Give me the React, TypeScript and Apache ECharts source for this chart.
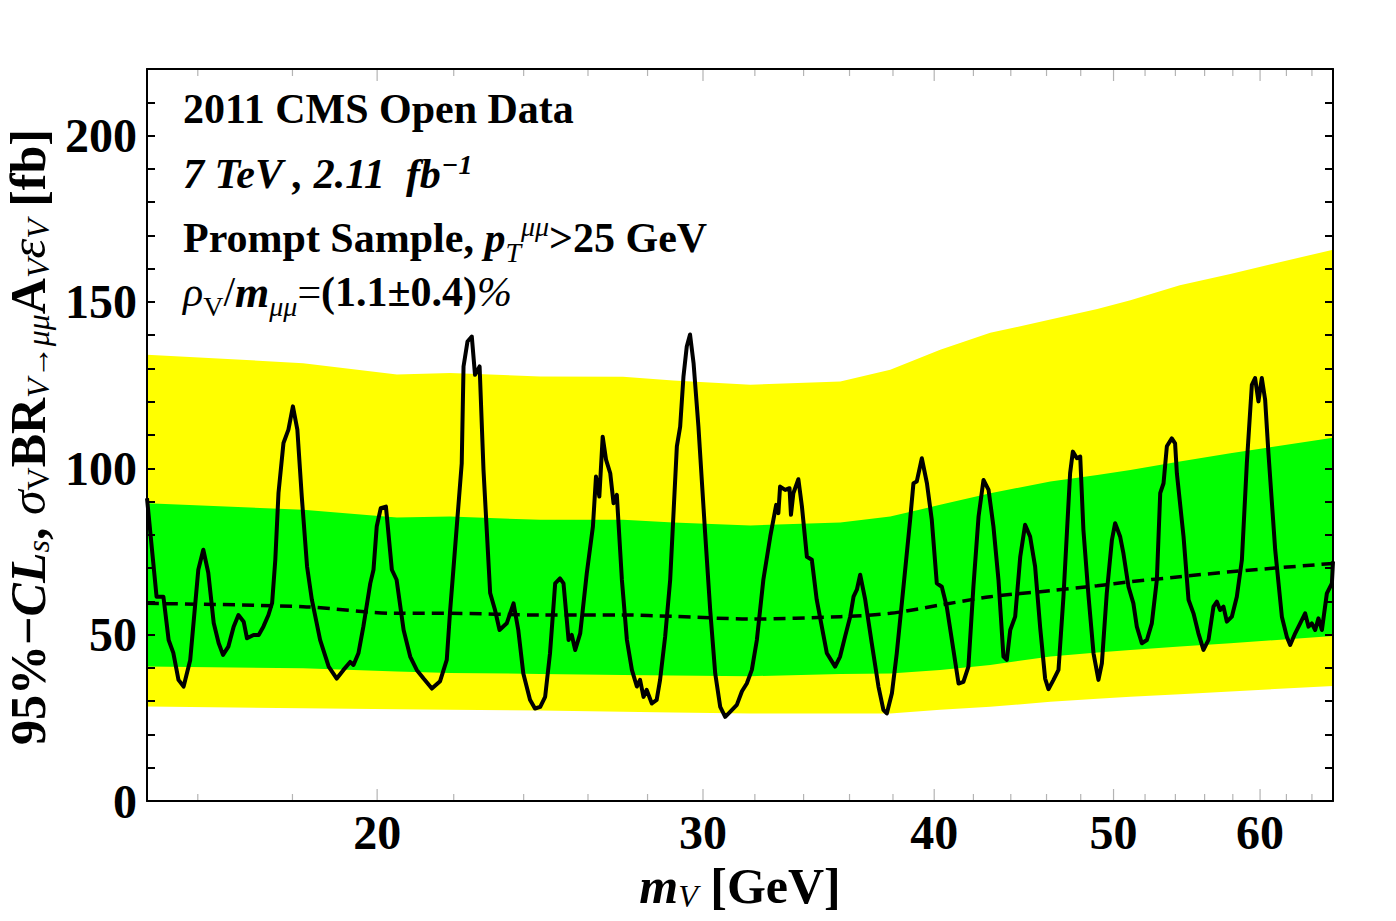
import React, { useEffect, useRef } from "react";
import * as echarts from "echarts";

const SERIF = '"Liberation Serif", "Times New Roman", Times, serif';

// Axis ranges: dimuon mass m_V in GeV (log scale), limit in fb
const massRange = [15.02, 65.7];
const limitRange = [0, 220];

const xMajorTicks = [20, 30, 40, 50, 60];
const xMinorTicks = [16, 18, 22, 24, 26, 28, 32, 34, 36, 38, 42, 44, 46, 48, 52, 54, 56, 58, 62, 64];
const yLabelStep = 50;

// Expected limit and its 1σ / 2σ bands
const bandMass = [15.02, 18.24, 20.5, 21.9, 24.5, 27.16, 28.91, 31.82, 35.59, 37.87, 40.3, 42.89, 46.22, 49.0, 51.06, 54.3, 57.82, 65.7];
const twoSigmaHigh = [134.1, 131.6, 128.2, 128.6, 127.6, 127.5, 126.4, 125.1, 126.1, 129.6, 135.6, 140.7, 144.7, 147.9, 150.5, 155.0, 158.4, 165.7];
const oneSigmaHigh = [89.5, 87.5, 85.2, 85.5, 84.5, 84.5, 83.7, 82.8, 83.7, 85.5, 89.0, 92.5, 96.0, 98.0, 99.5, 102.0, 104.5, 109.2];
const oneSigmaLow = [40.4, 39.9, 38.9, 38.5, 38.2, 37.9, 37.7, 37.5, 38.2, 38.3, 39.4, 40.9, 43.4, 44.6, 45.4, 46.4, 47.4, 49.6];
const twoSigmaLow = [28.4, 27.9, 27.6, 27.4, 27.2, 26.8, 26.6, 26.3, 26.3, 26.3, 27.4, 28.3, 29.8, 30.7, 31.3, 32.1, 32.9, 34.6];
const expectedMedian = [59.4, 58.4, 56.4, 56.4, 55.9, 55.9, 55.5, 54.7, 55.4, 56.4, 58.9, 61.4, 63.2, 64.7, 65.9, 67.4, 68.9, 71.4];

// Observed 95% CLs limit: [m_V (GeV), limit (fb)]
const observedLimit: [number, number][] = [
  [15.02, 91], [15.2, 61.4], [15.33, 61.4], [15.43, 48.4], [15.52, 44.5], [15.62, 36.4], [15.72, 34.4], [15.85, 42.4],
  [16.01, 69.5], [16.11, 75.5], [16.21, 68.6], [16.32, 53.5], [16.42, 47.5], [16.51, 43.9], [16.62, 46.4], [16.73, 52.4],
  [16.83, 55.9], [16.94, 53.9], [17.01, 48.9], [17.15, 49.9], [17.26, 49.9], [17.36, 52.4], [17.47, 55.9], [17.55, 59.5],
  [17.62, 72.5], [17.69, 92.6], [17.8, 107.6], [17.91, 111.6], [18.01, 118.6], [18.11, 111.6], [18.21, 91.5], [18.33, 70.5],
  [18.44, 60.5], [18.63, 48.4], [18.83, 40.4], [19.02, 36.8], [19.18, 39.4], [19.34, 41.8], [19.42, 40.9], [19.54, 44.4],
  [19.66, 52.4], [19.83, 65.4], [19.91, 69.5], [19.99, 82.5], [20.09, 88], [20.22, 88.5], [20.37, 69.5], [20.49, 66.5],
  [20.67, 51.4], [20.84, 43.4], [21.01, 39.4], [21.19, 36.8], [21.41, 33.8], [21.63, 36], [21.81, 42.4], [21.9, 57],
  [21.99, 69.5], [22.22, 101.5], [22.27, 130.6], [22.38, 138.1], [22.5, 139.6], [22.59, 128.1], [22.72, 130.6], [22.83, 99.5],
  [23.02, 62.5], [23.16, 57.4], [23.29, 51.4], [23.5, 53.4], [23.7, 59.4], [23.84, 51.4], [23.99, 38.3], [24.19, 30.4],
  [24.34, 27.8], [24.5, 28.3], [24.65, 31.3], [24.8, 44.4], [24.96, 65.4], [25.11, 66.9], [25.22, 65.4], [25.38, 48.4],
  [25.48, 49.9], [25.59, 45.4], [25.75, 50.4], [25.96, 68.4], [26.16, 82.5], [26.26, 97.5], [26.37, 91.5], [26.48, 109.5],
  [26.59, 102.6], [26.73, 98.5], [26.84, 89.5], [26.95, 92], [27.12, 66.5], [27.29, 48.4], [27.46, 39.4], [27.63, 34.4],
  [27.74, 36.4], [27.86, 31.3], [27.97, 33.4], [28.15, 29.3], [28.32, 30.4], [28.44, 36.4], [28.62, 49.4], [28.8, 66.5],
  [29.04, 106.6], [29.16, 112.5], [29.28, 127.6], [29.4, 136.6], [29.52, 140.2], [29.65, 131.6], [29.83, 112.5], [30.08, 80.5],
  [30.27, 57.4], [30.46, 38.3], [30.65, 28.3], [30.84, 25.3], [31.03, 26.8], [31.29, 28.9], [31.49, 33], [31.68, 35.3],
  [31.88, 39.4], [32.08, 48.4], [32.34, 66.5], [32.62, 79.5], [32.86, 89], [32.95, 86.5], [33.02, 94.5], [33.23, 93.5],
  [33.41, 94], [33.47, 86], [33.57, 92.5], [33.78, 96.7], [33.93, 88.5], [34.14, 73.4], [34.35, 72.5], [34.56, 60.5],
  [34.78, 52.4], [35.0, 44.4], [35.36, 40.4], [35.58, 43.4], [35.8, 49.4], [36.03, 55.4], [36.18, 61.4], [36.33, 63.5],
  [36.48, 68], [36.71, 60.5], [37.01, 47.4], [37.32, 34.4], [37.55, 27.4], [37.71, 26.3], [37.95, 32.4], [38.18, 44.4],
  [38.5, 64.4], [38.82, 84.5], [38.98, 95.5], [39.14, 96], [39.39, 103], [39.64, 95.5], [39.88, 84.5], [40.13, 65.4],
  [40.38, 64.4], [40.63, 58.4], [40.89, 48.4], [41.23, 35.3], [41.48, 35.8], [41.74, 40.4], [42.0, 64.4], [42.27, 85.5],
  [42.53, 96.5], [42.8, 93.5], [43.06, 82.5], [43.33, 66.5], [43.6, 43.4], [43.78, 42.4], [43.97, 51.4], [44.24, 55.4],
  [44.52, 73.4], [44.79, 83], [45.07, 79.5], [45.35, 70.5], [45.64, 52], [45.92, 36.8], [46.11, 33.6], [46.4, 36.4],
  [46.69, 39.4], [46.98, 61.4], [47.37, 98.5], [47.53, 105], [47.77, 103], [47.97, 103.5], [48.16, 81.5], [48.47, 61.4],
  [48.77, 44.4], [49.07, 36.4], [49.28, 41.4], [49.58, 62.4], [49.9, 78.5], [50.1, 83.5], [50.41, 79.5], [50.62, 74.4],
  [50.94, 64.4], [51.25, 59.4], [51.47, 52.4], [51.79, 47.4], [52.12, 48.4], [52.44, 53.4], [52.77, 66.5], [52.99, 92.5],
  [53.21, 95.5], [53.43, 106.6], [53.76, 109], [53.98, 107.5], [54.1, 98.5], [54.55, 79.5], [54.89, 60.5], [55.23, 56.4],
  [55.57, 50.4], [55.92, 45.4], [56.27, 48.4], [56.62, 58.4], [56.86, 59.9], [57.09, 57.4], [57.33, 58.4], [57.57, 53.9],
  [57.93, 55.4], [58.29, 61.4], [58.66, 72.5], [59.02, 101.5], [59.39, 125.1], [59.63, 127.1], [59.88, 120.1], [60.13, 127.1],
  [60.38, 120.6], [60.63, 104.5], [61.14, 75.5], [61.65, 55.4], [62.03, 49.4], [62.29, 46.9], [62.68, 50.4], [63.07, 53.4],
  [63.46, 56.4], [63.73, 52.4], [63.99, 53.4], [64.26, 51.4], [64.52, 54.9], [64.8, 51.4], [65.2, 62.4], [65.61, 65.4],
  [65.7, 72],
];

const lg = Math.log10;

const font = (size: number, weight: string, style: string, extra: Record<string, unknown> = {}) => ({
  fontFamily: SERIF,
  fontSize: size,
  fontWeight: weight,
  fontStyle: style,
  fill: "#000",
  ...extra,
});

// Rich-text styles for the annotation block
const annoRich = {
  b: font(42, "bold", "normal", { lineHeight: 56 }),
  bi: font(42, "bold", "italic", { lineHeight: 56 }),
  bim: font(44, "bold", "italic", { lineHeight: 56 }),
  i: font(42, "normal", "italic", { lineHeight: 56 }),
  r: font(42, "normal", "normal", { lineHeight: 56 }),
  sub: font(28, "normal", "normal", { verticalAlign: "bottom" }),
  subi: font(28, "normal", "italic", { verticalAlign: "bottom" }),
  supi: font(28, "normal", "italic", { verticalAlign: "top", padding: [2, 0, 0, 0] }),
  supbi: font(28, "bold", "italic", { verticalAlign: "top", padding: [4, 0, 0, 0] }),
};

// Rich-text styles for the axis titles
const titleRich = {
  b: font(50, "bold", "normal", { lineHeight: 52 }),
  bi: font(50, "bold", "italic", { lineHeight: 52 }),
  i: font(50, "normal", "italic", { lineHeight: 52 }),
  sub: font(32, "normal", "normal", { verticalAlign: "bottom" }),
  subi: font(32, "normal", "italic", { verticalAlign: "bottom" }),
};

export default function App() {
  const ref = useRef<HTMLDivElement>(null);

  useEffect(() => {
    if (!ref.current) return;
    const chart = echarts.init(ref.current, undefined, { renderer: "svg" });

    const frameLine = { show: true, onZero: false, lineStyle: { color: "#000", width: 2 } };
    const xAxisBase = {
      type: "value",
      min: lg(massRange[0]),
      max: lg(massRange[1]),
      axisLine: frameLine,
      axisTick: { show: false },
      axisLabel: { show: false },
      splitLine: { show: false },
      z: 8,
    };
    const yAxisBase = {
      type: "value",
      min: limitRange[0],
      max: limitRange[1],
      interval: 10,
      axisLine: frameLine,
      axisTick: { show: true, inside: true, length: 8, lineStyle: { color: "#000", width: 2 } },
      splitLine: { show: false },
      z: 8,
    };

    const bandPolygon = (api: any, hi: number[], lo: number[]) => {
      const pts: number[][] = [];
      bandMass.forEach((m, i) => pts.push(api.coord([lg(m), hi[i]])));
      for (let i = bandMass.length - 1; i >= 0; i--) pts.push(api.coord([lg(bandMass[i]), lo[i]]));
      return pts;
    };

    const tickData = [
      ...xMajorTicks.map((m) => [lg(m), m, 1]),
      ...xMinorTicks.map((m) => [lg(m), m, 0]),
    ];

    const option = {
      animation: false,
      backgroundColor: "#fff",
      grid: { left: 147, top: 69, width: 1186, height: 732, containLabel: false },
      xAxis: [
        { ...xAxisBase, position: "bottom" },
        { ...xAxisBase, position: "top" },
      ],
      yAxis: [
        {
          ...yAxisBase,
          position: "left",
          axisLabel: {
            show: true,
            margin: 10,
            color: "#000",
            fontFamily: SERIF,
            fontSize: 48,
            fontWeight: "bold",
            formatter: (v: number) => (v % yLabelStep === 0 ? String(v) : ""),
          },
        },
        { ...yAxisBase, position: "right", axisLabel: { show: false } },
      ],
      series: [
        {
          name: "bands",
          type: "custom",
          z: 1,
          silent: true,
          clip: true,
          data: [[lg(bandMass[0]), 0]],
          renderItem: (_params: any, api: any) => ({
            type: "group",
            children: [
              { type: "polygon", shape: { points: bandPolygon(api, twoSigmaHigh, twoSigmaLow) }, style: { fill: "#ffff00" } },
              { type: "polygon", shape: { points: bandPolygon(api, oneSigmaHigh, oneSigmaLow) }, style: { fill: "#00ff00" } },
            ],
          }),
        },
        {
          name: "expected",
          type: "line",
          z: 3,
          symbol: "none",
          silent: true,
          smooth: 0.3,
          data: bandMass.map((m, i) => [lg(m), expectedMedian[i]]),
          lineStyle: { color: "#000", width: 3.5, type: [12, 7] },
        },
        {
          name: "observed",
          type: "line",
          z: 4,
          symbol: "none",
          silent: true,
          clip: true,
          data: observedLimit.map(([m, v]) => [lg(m), v]),
          lineStyle: { color: "#000", width: 4, join: "round" },
        },
        {
          name: "massTicks",
          type: "custom",
          z: 9,
          silent: true,
          clip: false,
          data: tickData,
          renderItem: (params: any, api: any) => {
            const cs = params.coordSys;
            const px = api.coord([api.value(0), 0])[0];
            const major = api.value(2) === 1;
            const len = major ? 12 : 7;
            const bottom = cs.y + cs.height;
            const top = cs.y;
            const tickStyle = { stroke: "#b4b4b4", lineWidth: 1.2 };
            const children: any[] = [
              { type: "line", shape: { x1: px, y1: bottom - 1, x2: px, y2: bottom - len }, style: tickStyle },
              { type: "line", shape: { x1: px, y1: top + 1, x2: px, y2: top + len }, style: tickStyle },
            ];
            if (major) {
              children.push({
                type: "text",
                x: px,
                y: bottom + 31,
                style: {
                  text: String(api.value(1)),
                  fill: "#000",
                  fontFamily: SERIF,
                  fontSize: 48,
                  fontWeight: "bold",
                  align: "center",
                  verticalAlign: "middle",
                },
              });
            }
            return { type: "group", children };
          },
        },
      ],
      graphic: [
        {
          type: "text",
          x: 183,
          y: 109,
          z: 20,
          style: { text: "{b|2011 CMS Open Data}", rich: annoRich, align: "left", verticalAlign: "middle" },
        },
        {
          type: "text",
          x: 183,
          y: 174,
          z: 20,
          style: { text: "{bi|7 TeV , 2.11  fb}{supbi|−1}", rich: annoRich, align: "left", verticalAlign: "middle" },
        },
        {
          type: "text",
          x: 183,
          y: 238,
          z: 20,
          style: {
            text: "{b|Prompt Sample, }{bi|p}{subi|T}{supi|μμ}{b|>25 GeV}",
            rich: annoRich,
            align: "left",
            verticalAlign: "middle",
          },
        },
        {
          type: "text",
          x: 183,
          y: 292,
          z: 20,
          style: {
            text: "{i|ρ}{sub|V}{r|/}{bim|m}{subi|μμ}{r|=}{b|(1.1±0.4)}{i|%}",
            rich: annoRich,
            align: "left",
            verticalAlign: "middle",
          },
        },
        {
          type: "text",
          x: 740,
          y: 886,
          z: 20,
          style: { text: "{bi|m}{subi|V}{b| [GeV]}", rich: titleRich, align: "center", verticalAlign: "middle" },
        },
        {
          type: "text",
          x: 28,
          y: 437,
          rotation: Math.PI / 2,
          z: 20,
          style: {
            text: "{b|95%−}{bi|CL}{subi|s}{b|, }{i|σ}{sub|V}{b|BR}{subi|V→μμ}{b|A}{subi|V}{i|ε}{subi|V}{b| [fb]}",
            rich: titleRich,
            align: "center",
            verticalAlign: "middle",
          },
        },
      ],
    };

    chart.setOption(option as any);
    return () => chart.dispose();
  }, []);

  return (
    <div
      ref={ref}
      style={{ position: "fixed", left: 0, top: 0, width: 1396, height: 921, background: "#fff" }}
    />
  );
}
